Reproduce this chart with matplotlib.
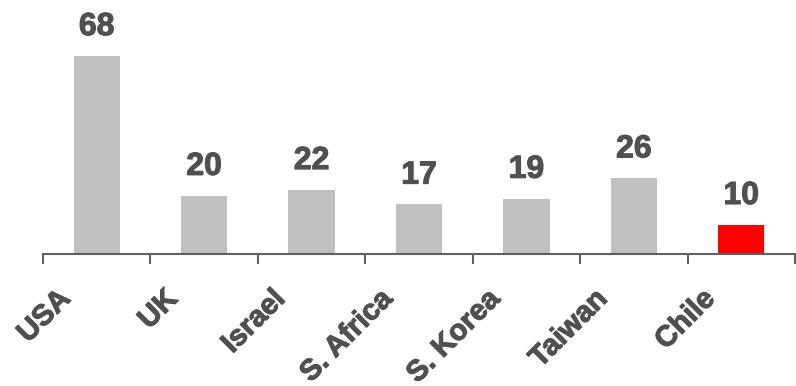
import matplotlib.pyplot as plt
import matplotlib.transforms as mtransforms
import matplotlib.patheffects as pe

# data
countries = ['USA', 'UK', 'Israel', 'S. Africa', 'S. Korea', 'Taiwan', 'Chile']
values = [68, 20, 22, 17, 19, 26, 10]
colors = ['#c0c0c0'] * 6 + ['#ff0000']

text_color = '#505050'
heavy = [pe.withStroke(linewidth=0.8, foreground=text_color)]

fig = plt.figure(figsize=(7.96, 3.86), dpi=100)
ax = fig.add_axes([43/796, 132/386, 752/796, 254/386])

x = list(range(len(countries)))
ax.bar(x, values, width=0.43, color=colors)

for i, v in zip(x, values):
    ax.annotate(str(v), (i, v), xytext=(0, 10), textcoords='offset points',
                ha='center', va='bottom', fontsize=23, fontweight='bold',
                color=text_color, family='Liberation Sans', path_effects=heavy)

ax.set_xlim(-0.5, len(countries) - 0.5)
ax.set_ylim(0, 254/2.912)

for s in ['top', 'right', 'left']:
    ax.spines[s].set_visible(False)
ax.spines['bottom'].set_color('#606060')
ax.spines['bottom'].set_linewidth(1.5)
ax.set_yticks([])

# ticks between categories, labels at the centres
ax.set_xticks([i - 0.5 for i in range(len(countries) + 1)], minor=True)
ax.tick_params(axis='x', which='minor', length=7, width=1.5, color='#606060')
ax.set_xticks(x)
ax.set_xticklabels(countries, rotation=45, ha='right', fontsize=21,
                   fontweight='bold', color=text_color, family='Liberation Sans')
ax.tick_params(axis='x', which='major', length=0, pad=22)

shift = mtransforms.ScaledTranslation(-21/100, 0, fig.dpi_scale_trans)
for lab in ax.get_xticklabels():
    lab.set_transform(lab.get_transform() + shift)
    lab.set_path_effects(heavy)

fig.savefig('out.png', dpi=100)
